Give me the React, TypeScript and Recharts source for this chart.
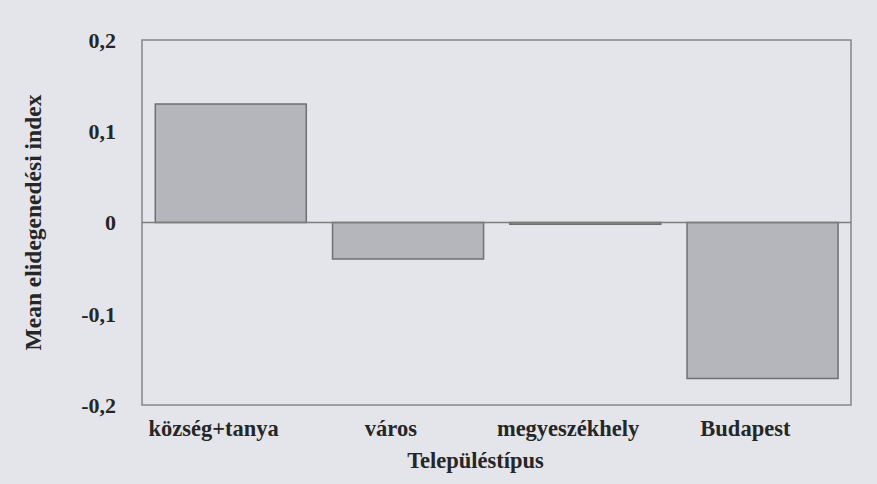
import React from 'react';
import {
  BarChart,
  Bar,
  XAxis,
  YAxis,
  ReferenceArea,
  ReferenceLine,
} from 'recharts';

const categories = ['község+tanya', 'város', 'megyeszékhely', 'Budapest'];
const meanIndex = [0.13, -0.04, -0.002, -0.171];
const yTicks = [-0.2, -0.1, 0, 0.1, 0.2];

const data = categories.map((name, i) => ({ name, value: meanIndex[i] }));

const FONT = '"Liberation Serif", "Times New Roman", serif';
const INK = '#262626';

const fmt = (v: number) => (v === 0 ? '0' : String(v).replace('.', ','));

const CategoryTick = (props: any) => {
  const { x, y, payload } = props;
  return (
    <text
      x={x - 17}
      y={y}
      dy="0.85em"
      textAnchor="middle"
      fontFamily={FONT}
      fontWeight="bold"
      fontSize={22.5}
      fill={INK}
    >
      {payload.value}
    </text>
  );
};

const App = () => {
  return (
    <div
      style={{
        position: 'fixed',
        left: 0,
        top: 0,
        width: 877,
        height: 484,
        background: '#e3e5eb',
      }}
    >
      <BarChart
        width={877}
        height={484}
        data={data}
        margin={{ top: 40, right: 26, left: 22, bottom: 49 }}
        barCategoryGap="7.5%"
      >
        <ReferenceArea
          y1={-0.2}
          y2={0.2}
          fill="none"
          stroke="#858585"
          strokeWidth={1.5}
        />
        <XAxis
          dataKey="name"
          axisLine={false}
          tickLine={false}
          tickMargin={6}
          height={30}
          tick={<CategoryTick />}
          label={{
            value: 'Településtípus',
            position: 'bottom',
            offset: 17,
            dx: -21,
            style: {
              fontFamily: FONT,
              fontWeight: 'bold',
              fontSize: 22.5,
              fill: INK,
            },
          }}
        />
        <YAxis
          width={120}
          domain={[-0.2, 0.2]}
          ticks={yTicks}
          tickFormatter={fmt}
          axisLine={false}
          tickLine={false}
          tickMargin={20}
          tick={{
            fontFamily: FONT,
            fontWeight: 'bold',
            fontSize: 22,
            fill: INK,
          }}
          label={{
            value: 'Mean elidegenedési index',
            angle: -90,
            position: 'insideLeft',
            offset: 11,
            style: {
              textAnchor: 'middle',
              fontFamily: FONT,
              fontWeight: 'bold',
              fontSize: 23.5,
              fill: INK,
            },
          }}
        />
        <ReferenceLine y={0} stroke="#7d7d7d" strokeWidth={1.5} />
        <Bar
          dataKey="value"
          fill="#b4b6bc"
          stroke="#6f6f6f"
          strokeWidth={1.5}
          isAnimationActive={false}
        />
      </BarChart>
    </div>
  );
};

export default App;
